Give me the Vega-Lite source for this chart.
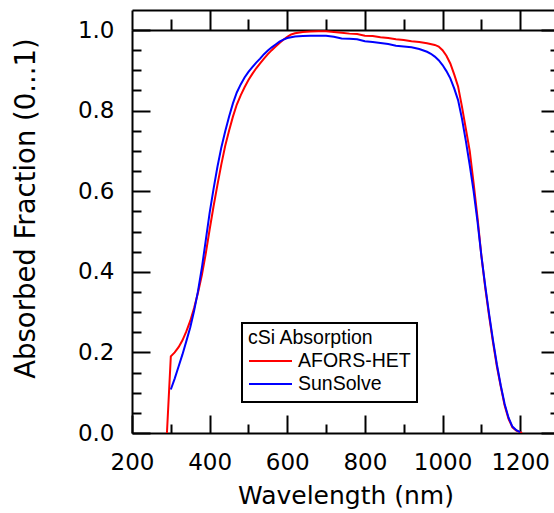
{
  "$schema": "https://vega.github.io/schema/vega-lite/v6.json",
  "autosize": {"type": "none"},
  "padding": {"left": 132, "top": 30, "right": 0, "bottom": 80},
  "width": 427,
  "height": 403,
  "background": "white",
  "config": {
    "view": {"stroke": null},
    "axis": {
      "grid": false,
      "domainColor": "black",
      "tickColor": "black",
      "labelColor": "black",
      "titleColor": "black",
      "domainWidth": 2,
      "tickWidth": 2,
      "labelFont": "DejaVu Sans",
      "titleFont": "DejaVu Sans",
      "titleFontWeight": "normal",
      "labelFlush": false,
      "labelOverlap": false,
      "labelBound": false
    },
    "legend": {"strokeWidth": 2}
  },
  "datasets": {
    "curves": [
      {"wavelength": 290, "absorbed": 0, "model": "AFORS-HET"},
      {"wavelength": 300, "absorbed": 0.19, "model": "AFORS-HET"},
      {"wavelength": 310, "absorbed": 0.2, "model": "AFORS-HET"},
      {"wavelength": 320, "absorbed": 0.213, "model": "AFORS-HET"},
      {"wavelength": 330, "absorbed": 0.23, "model": "AFORS-HET"},
      {"wavelength": 340, "absorbed": 0.252, "model": "AFORS-HET"},
      {"wavelength": 350, "absorbed": 0.278, "model": "AFORS-HET"},
      {"wavelength": 360, "absorbed": 0.31, "model": "AFORS-HET"},
      {"wavelength": 370, "absorbed": 0.348, "model": "AFORS-HET"},
      {"wavelength": 380, "absorbed": 0.392, "model": "AFORS-HET"},
      {"wavelength": 390, "absorbed": 0.445, "model": "AFORS-HET"},
      {"wavelength": 400, "absorbed": 0.505, "model": "AFORS-HET"},
      {"wavelength": 410, "absorbed": 0.562, "model": "AFORS-HET"},
      {"wavelength": 420, "absorbed": 0.615, "model": "AFORS-HET"},
      {"wavelength": 430, "absorbed": 0.666, "model": "AFORS-HET"},
      {"wavelength": 440, "absorbed": 0.712, "model": "AFORS-HET"},
      {"wavelength": 450, "absorbed": 0.75, "model": "AFORS-HET"},
      {"wavelength": 460, "absorbed": 0.785, "model": "AFORS-HET"},
      {"wavelength": 470, "absorbed": 0.815, "model": "AFORS-HET"},
      {"wavelength": 480, "absorbed": 0.838, "model": "AFORS-HET"},
      {"wavelength": 490, "absorbed": 0.858, "model": "AFORS-HET"},
      {"wavelength": 500, "absorbed": 0.876, "model": "AFORS-HET"},
      {"wavelength": 510, "absorbed": 0.891, "model": "AFORS-HET"},
      {"wavelength": 520, "absorbed": 0.905, "model": "AFORS-HET"},
      {"wavelength": 530, "absorbed": 0.917, "model": "AFORS-HET"},
      {"wavelength": 540, "absorbed": 0.929, "model": "AFORS-HET"},
      {"wavelength": 550, "absorbed": 0.94, "model": "AFORS-HET"},
      {"wavelength": 560, "absorbed": 0.95, "model": "AFORS-HET"},
      {"wavelength": 570, "absorbed": 0.959, "model": "AFORS-HET"},
      {"wavelength": 580, "absorbed": 0.968, "model": "AFORS-HET"},
      {"wavelength": 590, "absorbed": 0.976, "model": "AFORS-HET"},
      {"wavelength": 600, "absorbed": 0.983, "model": "AFORS-HET"},
      {"wavelength": 610, "absorbed": 0.989, "model": "AFORS-HET"},
      {"wavelength": 620, "absorbed": 0.992, "model": "AFORS-HET"},
      {"wavelength": 640, "absorbed": 0.995, "model": "AFORS-HET"},
      {"wavelength": 660, "absorbed": 0.996, "model": "AFORS-HET"},
      {"wavelength": 680, "absorbed": 0.997, "model": "AFORS-HET"},
      {"wavelength": 700, "absorbed": 0.997, "model": "AFORS-HET"},
      {"wavelength": 720, "absorbed": 0.995, "model": "AFORS-HET"},
      {"wavelength": 740, "absorbed": 0.993, "model": "AFORS-HET"},
      {"wavelength": 760, "absorbed": 0.991, "model": "AFORS-HET"},
      {"wavelength": 780, "absorbed": 0.99, "model": "AFORS-HET"},
      {"wavelength": 800, "absorbed": 0.986, "model": "AFORS-HET"},
      {"wavelength": 820, "absorbed": 0.985, "model": "AFORS-HET"},
      {"wavelength": 840, "absorbed": 0.982, "model": "AFORS-HET"},
      {"wavelength": 860, "absorbed": 0.98, "model": "AFORS-HET"},
      {"wavelength": 880, "absorbed": 0.977, "model": "AFORS-HET"},
      {"wavelength": 900, "absorbed": 0.975, "model": "AFORS-HET"},
      {"wavelength": 920, "absorbed": 0.972, "model": "AFORS-HET"},
      {"wavelength": 940, "absorbed": 0.97, "model": "AFORS-HET"},
      {"wavelength": 960, "absorbed": 0.967, "model": "AFORS-HET"},
      {"wavelength": 980, "absorbed": 0.963, "model": "AFORS-HET"},
      {"wavelength": 990, "absorbed": 0.959, "model": "AFORS-HET"},
      {"wavelength": 1000, "absorbed": 0.95, "model": "AFORS-HET"},
      {"wavelength": 1010, "absorbed": 0.936, "model": "AFORS-HET"},
      {"wavelength": 1020, "absorbed": 0.917, "model": "AFORS-HET"},
      {"wavelength": 1030, "absorbed": 0.89, "model": "AFORS-HET"},
      {"wavelength": 1040, "absorbed": 0.86, "model": "AFORS-HET"},
      {"wavelength": 1050, "absorbed": 0.81, "model": "AFORS-HET"},
      {"wavelength": 1060, "absorbed": 0.755, "model": "AFORS-HET"},
      {"wavelength": 1070, "absorbed": 0.7, "model": "AFORS-HET"},
      {"wavelength": 1080, "absorbed": 0.62, "model": "AFORS-HET"},
      {"wavelength": 1090, "absorbed": 0.535, "model": "AFORS-HET"},
      {"wavelength": 1100, "absorbed": 0.44, "model": "AFORS-HET"},
      {"wavelength": 1110, "absorbed": 0.36, "model": "AFORS-HET"},
      {"wavelength": 1120, "absorbed": 0.29, "model": "AFORS-HET"},
      {"wavelength": 1130, "absorbed": 0.225, "model": "AFORS-HET"},
      {"wavelength": 1140, "absorbed": 0.165, "model": "AFORS-HET"},
      {"wavelength": 1150, "absorbed": 0.115, "model": "AFORS-HET"},
      {"wavelength": 1160, "absorbed": 0.068, "model": "AFORS-HET"},
      {"wavelength": 1170, "absorbed": 0.035, "model": "AFORS-HET"},
      {"wavelength": 1180, "absorbed": 0.014, "model": "AFORS-HET"},
      {"wavelength": 1190, "absorbed": 0.006, "model": "AFORS-HET"},
      {"wavelength": 1200, "absorbed": 0.002, "model": "AFORS-HET"},
      {"wavelength": 1205, "absorbed": 0, "model": "AFORS-HET"},
      {"wavelength": 300, "absorbed": 0.108, "model": "SunSolve"},
      {"wavelength": 310, "absorbed": 0.135, "model": "SunSolve"},
      {"wavelength": 320, "absorbed": 0.165, "model": "SunSolve"},
      {"wavelength": 330, "absorbed": 0.195, "model": "SunSolve"},
      {"wavelength": 340, "absorbed": 0.228, "model": "SunSolve"},
      {"wavelength": 350, "absorbed": 0.262, "model": "SunSolve"},
      {"wavelength": 360, "absorbed": 0.303, "model": "SunSolve"},
      {"wavelength": 370, "absorbed": 0.352, "model": "SunSolve"},
      {"wavelength": 380, "absorbed": 0.41, "model": "SunSolve"},
      {"wavelength": 390, "absorbed": 0.478, "model": "SunSolve"},
      {"wavelength": 400, "absorbed": 0.546, "model": "SunSolve"},
      {"wavelength": 410, "absorbed": 0.605, "model": "SunSolve"},
      {"wavelength": 420, "absorbed": 0.66, "model": "SunSolve"},
      {"wavelength": 430, "absorbed": 0.708, "model": "SunSolve"},
      {"wavelength": 440, "absorbed": 0.748, "model": "SunSolve"},
      {"wavelength": 450, "absorbed": 0.785, "model": "SunSolve"},
      {"wavelength": 460, "absorbed": 0.818, "model": "SunSolve"},
      {"wavelength": 470, "absorbed": 0.845, "model": "SunSolve"},
      {"wavelength": 480, "absorbed": 0.865, "model": "SunSolve"},
      {"wavelength": 490, "absorbed": 0.882, "model": "SunSolve"},
      {"wavelength": 500, "absorbed": 0.896, "model": "SunSolve"},
      {"wavelength": 510, "absorbed": 0.908, "model": "SunSolve"},
      {"wavelength": 520, "absorbed": 0.919, "model": "SunSolve"},
      {"wavelength": 530, "absorbed": 0.929, "model": "SunSolve"},
      {"wavelength": 540, "absorbed": 0.94, "model": "SunSolve"},
      {"wavelength": 550, "absorbed": 0.949, "model": "SunSolve"},
      {"wavelength": 560, "absorbed": 0.957, "model": "SunSolve"},
      {"wavelength": 570, "absorbed": 0.964, "model": "SunSolve"},
      {"wavelength": 580, "absorbed": 0.971, "model": "SunSolve"},
      {"wavelength": 590, "absorbed": 0.976, "model": "SunSolve"},
      {"wavelength": 600, "absorbed": 0.98, "model": "SunSolve"},
      {"wavelength": 620, "absorbed": 0.984, "model": "SunSolve"},
      {"wavelength": 640, "absorbed": 0.985, "model": "SunSolve"},
      {"wavelength": 660, "absorbed": 0.986, "model": "SunSolve"},
      {"wavelength": 680, "absorbed": 0.986, "model": "SunSolve"},
      {"wavelength": 700, "absorbed": 0.986, "model": "SunSolve"},
      {"wavelength": 720, "absorbed": 0.983, "model": "SunSolve"},
      {"wavelength": 740, "absorbed": 0.979, "model": "SunSolve"},
      {"wavelength": 760, "absorbed": 0.978, "model": "SunSolve"},
      {"wavelength": 780, "absorbed": 0.977, "model": "SunSolve"},
      {"wavelength": 800, "absorbed": 0.972, "model": "SunSolve"},
      {"wavelength": 820, "absorbed": 0.97, "model": "SunSolve"},
      {"wavelength": 840, "absorbed": 0.968, "model": "SunSolve"},
      {"wavelength": 860, "absorbed": 0.965, "model": "SunSolve"},
      {"wavelength": 880, "absorbed": 0.961, "model": "SunSolve"},
      {"wavelength": 900, "absorbed": 0.959, "model": "SunSolve"},
      {"wavelength": 920, "absorbed": 0.957, "model": "SunSolve"},
      {"wavelength": 940, "absorbed": 0.953, "model": "SunSolve"},
      {"wavelength": 960, "absorbed": 0.946, "model": "SunSolve"},
      {"wavelength": 970, "absorbed": 0.941, "model": "SunSolve"},
      {"wavelength": 980, "absorbed": 0.934, "model": "SunSolve"},
      {"wavelength": 990, "absorbed": 0.925, "model": "SunSolve"},
      {"wavelength": 1000, "absorbed": 0.913, "model": "SunSolve"},
      {"wavelength": 1010, "absorbed": 0.898, "model": "SunSolve"},
      {"wavelength": 1020, "absorbed": 0.88, "model": "SunSolve"},
      {"wavelength": 1030, "absorbed": 0.855, "model": "SunSolve"},
      {"wavelength": 1040, "absorbed": 0.826, "model": "SunSolve"},
      {"wavelength": 1050, "absorbed": 0.78, "model": "SunSolve"},
      {"wavelength": 1060, "absorbed": 0.725, "model": "SunSolve"},
      {"wavelength": 1070, "absorbed": 0.665, "model": "SunSolve"},
      {"wavelength": 1080, "absorbed": 0.6, "model": "SunSolve"},
      {"wavelength": 1090, "absorbed": 0.525, "model": "SunSolve"},
      {"wavelength": 1100, "absorbed": 0.44, "model": "SunSolve"},
      {"wavelength": 1110, "absorbed": 0.365, "model": "SunSolve"},
      {"wavelength": 1120, "absorbed": 0.295, "model": "SunSolve"},
      {"wavelength": 1130, "absorbed": 0.23, "model": "SunSolve"},
      {"wavelength": 1140, "absorbed": 0.17, "model": "SunSolve"},
      {"wavelength": 1150, "absorbed": 0.118, "model": "SunSolve"},
      {"wavelength": 1160, "absorbed": 0.072, "model": "SunSolve"},
      {"wavelength": 1170, "absorbed": 0.038, "model": "SunSolve"},
      {"wavelength": 1180, "absorbed": 0.016, "model": "SunSolve"},
      {"wavelength": 1190, "absorbed": 0.007, "model": "SunSolve"},
      {"wavelength": 1200, "absorbed": 0.002, "model": "SunSolve"}
    ]
  },
  "data": {"name": "curves"},
  "resolve": {"axis": {"x": "independent", "y": "independent"}},
  "layer": [
    {
      "mark": {"type": "line", "strokeWidth": 2, "clip": true},
      "encoding": {
        "x": {
          "field": "wavelength", "type": "quantitative",
          "scale": {"domain": [200, 1300], "nice": false, "zero": false},
          "axis": {
            "orient": "bottom", "values": [200, 400, 600, 800, 1000, 1200], "format": "d",
            "ticks": false, "domain": false, "labelFontSize": 23, "labelPadding": 18,
            "title": "Wavelength (nm)", "titleFontSize": 25, "titlePadding": 9
          }
        },
        "y": {
          "field": "absorbed", "type": "quantitative",
          "scale": {"domain": [0, 1], "nice": false, "zero": false},
          "axis": {
            "orient": "left", "values": [0, 0.2, 0.4, 0.6, 0.8, 1.0], "format": ".1f",
            "ticks": false, "domain": false, "labelFontSize": 23, "labelPadding": 18,
            "title": "Absorbed Fraction (0...1)", "titleFontSize": 27.5, "titlePadding": 37,
            "titleY": 178
          }
        },
        "color": {
          "field": "model", "type": "nominal",
          "scale": {"domain": ["AFORS-HET", "SunSolve"], "range": ["#ff0000", "#0000ff"]},
          "legend": {
            "title": "cSi Absorption", "orient": "none", "legendX": 110, "legendY": 293,
            "direction": "vertical", "symbolType": "stroke", "symbolSize": 1849,
            "symbolStrokeWidth": 2, "clipHeight": 23, "labelFont": "Liberation Sans",
            "labelFontSize": 19.5, "titleFont": "Liberation Sans", "titleFontSize": 19.5,
            "titleFontWeight": "normal", "titleColor": "black", "labelColor": "black",
            "strokeColor": "black", "fillColor": "white", "padding": 6, "labelOffset": 5,
            "rowPadding": 0, "titlePadding": 1, "titleLimit": 400, "labelLimit": 400
          }
        }
      }
    },
    {
      "mark": {"type": "point", "opacity": 0, "size": 0},
      "encoding": {
        "x": {"field": "wavelength", "type": "quantitative",
          "axis": {"orient": "bottom", "values": [200, 400, 600, 800, 1000, 1200], "labels": false, "tickSize": -18, "domain": true, "title": null}},
        "y": {"field": "absorbed", "type": "quantitative",
          "axis": {"orient": "left", "values": [0, 0.2, 0.4, 0.6, 0.8, 1.0], "labels": false, "tickSize": -18, "domain": true, "title": null}}
      }
    },
    {
      "mark": {"type": "point", "opacity": 0, "size": 0},
      "encoding": {
        "x": {"field": "wavelength", "type": "quantitative",
          "axis": {"orient": "bottom", "values": [300, 500, 700, 900, 1100], "labels": false, "tickSize": -9, "domain": false, "title": null}},
        "y": {"field": "absorbed", "type": "quantitative",
          "axis": {"orient": "left", "values": [0.05, 0.1, 0.15, 0.25, 0.3, 0.35, 0.45, 0.5, 0.55, 0.65, 0.7, 0.75, 0.85, 0.9, 0.95], "labels": false, "tickSize": -9, "domain": false, "title": null}}
      }
    },
    {
      "mark": {"type": "point", "opacity": 0, "size": 0},
      "encoding": {
        "x": {"field": "wavelength", "type": "quantitative",
          "axis": {"orient": "top", "values": [200, 400, 600, 800, 1000, 1200], "labels": false, "tickSize": 20, "domain": true, "title": null}},
        "y": {"field": "absorbed", "type": "quantitative",
          "axis": {"orient": "right", "values": [0, 0.2, 0.4, 0.6, 0.8, 1.0], "labels": false, "tickSize": -18, "domain": true, "title": null}}
      }
    },
    {
      "mark": {"type": "point", "opacity": 0, "size": 0},
      "encoding": {
        "x": {"field": "wavelength", "type": "quantitative",
          "axis": {"orient": "top", "values": [300, 500, 700, 900, 1100], "labels": false, "tickSize": 11, "domain": false, "title": null}},
        "y": {"field": "absorbed", "type": "quantitative",
          "axis": {"orient": "right", "values": [0.05, 0.1, 0.15, 0.25, 0.3, 0.35, 0.45, 0.5, 0.55, 0.65, 0.7, 0.75, 0.85, 0.9, 0.95], "labels": false, "tickSize": -9, "domain": false, "title": null}}
      }
    },
    {
      "mark": {"type": "point", "opacity": 0, "size": 0},
      "encoding": {
        "x": {"field": "wavelength", "type": "quantitative",
          "axis": {"orient": "top", "offset": 20, "labels": false, "ticks": false, "domain": true, "title": null}},
        "y": {"field": "absorbed", "type": "quantitative", "axis": null}
      }
    }
  ]
}
